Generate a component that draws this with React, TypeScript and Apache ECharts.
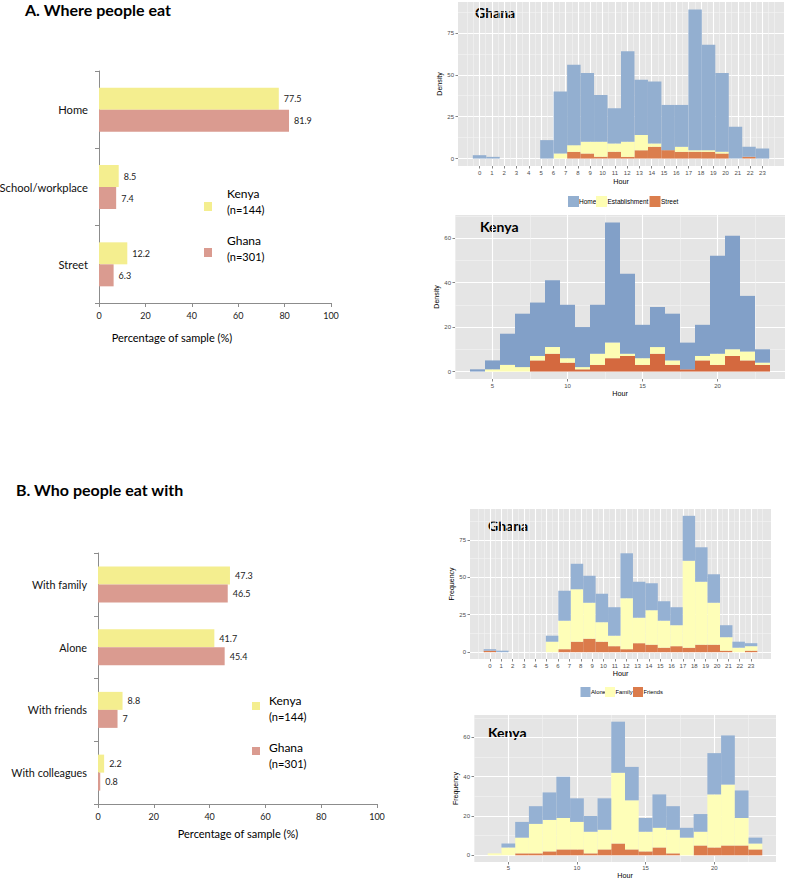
import React, { useEffect, useRef } from 'react';
import * as echarts from 'echarts';

// ---------- Bar charts (percentage of sample) ----------
const placeCategories = ['Home', 'School/workplace', 'Street'];
const placeKenya = [77.5, 8.5, 12.2];
const placeGhana = [81.9, 7.4, 6.3];

const companyCategories = ['With family', 'Alone', 'With friends', 'With colleagues'];
const companyKenya = [47.3, 41.7, 8.8, 2.2];
const companyGhana = [46.5, 45.4, 7, 0.8];

// ---------- Histograms ----------
// Ghana: 22 bins spanning hours 0..23
const ghanaBinCount = 22;
const ghanaHourFirst = 0;
const ghanaHourLast = 23;
const ghanaHourTicks = [0, 1, 2, 3, 4, 5, 6, 7, 8, 9, 10, 11, 12, 13, 14, 15, 16, 17, 18, 19, 20, 21, 22, 23];
// Kenya: one bin per hour, 4..23
const kenyaHours = [4, 5, 6, 7, 8, 9, 10, 11, 12, 13, 14, 15, 16, 17, 18, 19, 20, 21, 22, 23];
const kenyaHourTicks = [5, 10, 15, 20];

const ghanaWhereHome = [2, 1, 0, 0, 0, 11, 37, 48, 41, 28, 21, 54, 33, 37, 27, 25, 84, 63, 47, 19, 6, 6];
const ghanaWhereEstablishment = [0, 0, 0, 0, 0, 0, 3, 4, 7, 9, 5, 9, 9, 2, 0, 3, 1, 1, 1, 0, 0, 0];
const ghanaWhereStreet = [0, 0, 0, 0, 0, 0, 0, 4, 3, 1, 4, 1, 5, 7, 5, 4, 4, 4, 3, 0, 1, 0];

const kenyaWhereHome = [1, 4, 14, 24, 24, 30, 24, 18, 22, 54, 36, 15, 18, 21, 12, 14, 44, 51, 25, 6];
const kenyaWhereEstablishment = [0, 1, 3, 2, 2, 3, 2, 1, 5, 7, 1, 3, 3, 2, 0, 2, 5, 3, 4, 1];
const kenyaWhereStreet = [0, 0, 0, 0, 5, 8, 4, 1, 3, 6, 7, 3, 8, 3, 1, 5, 3, 7, 5, 3];

const ghanaWhoAlone = [1, 1, 0, 0, 0, 4, 20, 17, 18, 19, 19, 30, 24, 18, 13, 12, 30, 23, 19, 8, 4, 2];
const ghanaWhoFamily = [0, 0, 0, 0, 0, 7, 19, 35, 24, 13, 7, 34, 17, 23, 18, 14, 58, 42, 28, 9, 3, 3];
const ghanaWhoFriends = [1, 0, 0, 0, 0, 0, 2, 7, 9, 7, 4, 2, 6, 5, 3, 4, 3, 5, 5, 1, 0, 1];

const kenyaWhoAlone = [0, 2, 8, 9, 14, 21, 12, 8, 16, 26, 17, 7, 17, 12, 5, 9, 21, 25, 14, 3];
const kenyaWhoFamily = [1, 4, 8, 15, 16, 16, 14, 11, 10, 36, 25, 10, 10, 12, 9, 7, 27, 31, 14, 3];
const kenyaWhoFriends = [0, 0, 1, 1, 2, 3, 3, 1, 3, 6, 3, 2, 4, 1, 0, 5, 4, 5, 5, 3];

const densityTicks = [0, 25, 50, 75];
const kenyaCountTicks = [0, 20, 40, 60];

// ---------- styles ----------
const KENYA_BAR = '#F4EE8F';
const GHANA_BAR = '#DA9B90';
const HOME_G = '#93AFD0';
const HOME_K = '#82A0C8';
const EST = '#FDFDB3';
const STREET_G = '#DB7E4D';
const STREET_K = '#D4693F';
const ALONE = '#95B1D3';
const FAMILY = '#FEFEB8';
const FRIENDS = '#DB7B4B';
const HF = 'Liberation Sans, Arial, sans-serif';
const BF = 'Lato, sans-serif';

type Layer = { name: string; values: number[]; color: string };

function expandRange(lo: number, hi: number): [number, number] {
  const d = (hi - lo) * 0.05;
  return [lo - d, hi + d];
}

function minorBreaks(majors: number[], lo: number, hi: number): number[] {
  const step = majors[1] - majors[0];
  const out: number[] = [];
  for (let v = majors[0] - step; v <= majors[majors.length - 1] + step + 1e-9; v += step / 2) {
    const r = Math.round(v * 1000) / 1000;
    if (r >= lo && r <= hi && !majors.some((m) => Math.abs(m - r) < 1e-6)) out.push(r);
  }
  return out;
}

const MAJOR_GRID = { show: true, lineStyle: { color: '#FFFFFF', width: 1.1 } };
const MINOR_GRID = { show: true, lineStyle: { color: '#F4F4F4', width: 0.6 } };
const HIDDEN_LINE = { show: false, onZero: false };

function buildHist(
  idx: number,
  centers: number[],
  width: number,
  layers: Layer[],
  xTicks: number[],
  yTicks: number[],
  yName: string,
  nameGapX: number,
  nameGapY: number,
  labelMargin: number
) {
  const [xmin, xmax] = expandRange(centers[0] - width / 2, centers[centers.length - 1] + width / 2);
  const totals = centers.map((_, i) => layers.reduce((s, l) => s + l.values[i], 0));
  const [ymin, ymax] = expandRange(0, Math.max(...totals));

  const xAxis = {
    gridIndex: idx,
    type: 'value',
    position: 'bottom',
    min: xmin,
    max: xmax,
    axisLine: HIDDEN_LINE,
    splitLine: MAJOR_GRID,
    axisTick: { show: true, customValues: xTicks, length: 2.5, lineStyle: { color: '#333', width: 0.6 } },
    axisLabel: { customValues: xTicks, fontSize: 6, color: '#4d4d4d', margin: labelMargin, fontFamily: HF },
    name: 'Hour',
    nameLocation: 'middle',
    nameGap: nameGapX,
    nameTextStyle: { fontSize: 7.2, color: '#000', fontFamily: HF },
  };
  const yAxis = {
    gridIndex: idx,
    type: 'value',
    position: 'left',
    min: ymin,
    max: ymax,
    axisLine: HIDDEN_LINE,
    splitLine: MAJOR_GRID,
    axisTick: { show: true, customValues: yTicks, length: 2.5, lineStyle: { color: '#333', width: 0.6 } },
    axisLabel: { customValues: yTicks, fontSize: 6, color: '#4d4d4d', margin: 4, fontFamily: HF },
    name: yName,
    nameLocation: 'middle',
    nameGap: nameGapY,
    nameRotate: 90,
    nameTextStyle: { fontSize: 7, color: '#000', fontFamily: HF },
  };
  // invisible companion axes that only carry the minor grid lines
  const xMinor = {
    gridIndex: idx,
    type: 'value',
    position: 'bottom',
    min: xmin,
    max: xmax,
    axisLine: HIDDEN_LINE,
    axisTick: { show: false, customValues: minorBreaks(xTicks, xmin, xmax) },
    axisLabel: { show: false },
    splitLine: MINOR_GRID,
    z: 0,
  };
  const yMinor = {
    gridIndex: idx,
    type: 'value',
    position: 'left',
    min: ymin,
    max: ymax,
    axisLine: HIDDEN_LINE,
    axisTick: { show: false, customValues: minorBreaks(yTicks, ymin, ymax) },
    axisLabel: { show: false },
    splitLine: MINOR_GRID,
    z: 0,
  };

  const series: any[] = [];
  const cum = centers.map(() => 0);
  layers.forEach((layer) => {
    const data = centers.map((c, i) => {
      const b = cum[i];
      const t = b + layer.values[i];
      cum[i] = t;
      return [c, b, t];
    });
    series.push({
      type: 'custom',
      name: layer.name,
      xAxisIndex: idx,
      yAxisIndex: idx,
      z: 3,
      itemStyle: { color: layer.color },
      data,
      renderItem: (_params: any, api: any) => {
        const c = api.value(0);
        const b = api.value(1);
        const t = api.value(2);
        if (!(t > b)) return { type: 'group', children: [] };
        const p0 = api.coord([c - width / 2, t]);
        const p1 = api.coord([c + width / 2, b]);
        return {
          type: 'rect',
          shape: { x: p0[0], y: p0[1], width: p1[0] - p0[0], height: p1[1] - p0[1] },
          style: { fill: layer.color },
        };
      },
    });
  });
  return { xAxis, yAxis, xMinor, yMinor, series };
}

function barXAxis(idx: number) {
  return {
    gridIndex: idx,
    type: 'value',
    min: 0,
    max: 100,
    interval: 20,
    axisLine: { show: true, lineStyle: { color: '#8C8C8C', width: 1 } },
    axisTick: { show: true, length: 4, lineStyle: { color: '#8C8C8C' } },
    splitLine: { show: false },
    axisLabel: { fontSize: 9, color: '#222', margin: 8, fontFamily: BF },
  };
}

function barYAxis(idx: number, cats: string[], fontSize: number) {
  return {
    gridIndex: idx,
    type: 'category',
    inverse: true,
    data: cats,
    axisLine: { show: true, lineStyle: { color: '#8C8C8C', width: 1 } },
    axisTick: { show: true, length: 4, lineStyle: { color: '#8C8C8C' } },
    axisLabel: { fontSize, color: '#111', margin: 11, fontFamily: BF },
  };
}

function barSeries(idx: number, name: string, data: number[], color: string, width: number) {
  return {
    type: 'bar',
    name,
    xAxisIndex: idx,
    yAxisIndex: idx,
    data,
    barWidth: width,
    barGap: '0%',
    itemStyle: { color },
    label: { show: true, position: 'right', distance: 5, fontSize: 9, color: '#222', fontFamily: BF },
  };
}

function txt(x: number, y: number, text: string, fontSize: number, opts: any = {}) {
  return {
    type: 'text',
    x,
    y,
    style: {
      text,
      fontSize,
      fontFamily: opts.fontFamily || BF,
      fontWeight: opts.fontWeight || 'normal',
      fill: opts.fill || '#000',
      align: opts.align || 'left',
      verticalAlign: 'middle',
      textAlign: opts.align || 'left',
      textVerticalAlign: 'middle',
    },
  };
}

function rect(x: number, y: number, w: number, h: number, fill: string) {
  return { type: 'rect', shape: { x, y, width: w, height: h }, style: { fill } };
}

export default function App() {
  const ref = useRef<HTMLDivElement>(null);
  useEffect(() => {
    if (!ref.current) return;
    const chart = echarts.init(ref.current, undefined, { renderer: 'svg' });

    const ghanaWidth = (ghanaHourLast - ghanaHourFirst) / (ghanaBinCount - 1);
    const ghanaCenters = Array.from({ length: ghanaBinCount }, (_, i) => ghanaHourFirst + i * ghanaWidth);

    const h1 = buildHist(2, ghanaCenters, ghanaWidth, [
      { name: 'Street', values: ghanaWhereStreet, color: STREET_G },
      { name: 'Establishment', values: ghanaWhereEstablishment, color: EST },
      { name: 'Home', values: ghanaWhereHome, color: HOME_G },
    ], ghanaHourTicks, densityTicks, 'Density', 12, 12, 4);
    const h2 = buildHist(3, kenyaHours, 1, [
      { name: 'Street', values: kenyaWhereStreet, color: STREET_K },
      { name: 'Establishment', values: kenyaWhereEstablishment, color: EST },
      { name: 'Home', values: kenyaWhereHome, color: HOME_K },
    ], kenyaHourTicks, kenyaCountTicks, 'Density', 11, 12, 4);
    const h3 = buildHist(4, ghanaCenters, ghanaWidth, [
      { name: 'Friends', values: ghanaWhoFriends, color: FRIENDS },
      { name: 'Family', values: ghanaWhoFamily, color: FAMILY },
      { name: 'Alone', values: ghanaWhoAlone, color: ALONE },
    ], ghanaHourTicks, densityTicks, 'Frequency', 10.5, 10, 4);
    const h4 = buildHist(5, kenyaHours, 1, [
      { name: 'Friends', values: kenyaWhoFriends, color: FRIENDS },
      { name: 'Family', values: kenyaWhoFamily, color: FAMILY },
      { name: 'Alone', values: kenyaWhoAlone, color: ALONE },
    ], kenyaHourTicks, kenyaCountTicks, 'Frequency', 10, 11, 3);

    const noBounds = { containLabel: false, outerBoundsMode: 'none' };
    const histGrid = { show: true, backgroundColor: '#E5E5E5', borderWidth: 0, ...noBounds };

    const option: any = {
      animation: false,
      backgroundColor: '#FFFFFF',
      textStyle: { fontFamily: BF },
      grid: [
        { left: 99, top: 71, width: 232, height: 232, ...noBounds },
        { left: 98, top: 553, width: 279, height: 251, ...noBounds },
        { left: 458, top: 2, width: 326, height: 164, ...histGrid },
        { left: 455, top: 215, width: 330, height: 164, ...histGrid },
        { left: 470, top: 509, width: 301, height: 150, ...histGrid },
        { left: 474, top: 715, width: 302, height: 147, ...histGrid },
      ],
      xAxis: [
        barXAxis(0), barXAxis(1),
        h1.xAxis, h2.xAxis, h3.xAxis, h4.xAxis,
        h1.xMinor, h2.xMinor, h3.xMinor, h4.xMinor,
      ],
      yAxis: [
        barYAxis(0, placeCategories, 11.2),
        barYAxis(1, companyCategories, 10.8),
        h1.yAxis, h2.yAxis, h3.yAxis, h4.yAxis,
        h1.yMinor, h2.yMinor, h3.yMinor, h4.yMinor,
      ],
      series: [
        barSeries(0, 'Kenya', placeKenya, KENYA_BAR, 22),
        barSeries(0, 'Ghana', placeGhana, GHANA_BAR, 22),
        barSeries(1, 'Kenya', companyKenya, KENYA_BAR, 18),
        barSeries(1, 'Ghana', companyGhana, GHANA_BAR, 18),
        ...h1.series,
        ...h2.series,
        ...h3.series,
        ...h4.series,
      ],
      graphic: [
        // titles
        txt(25, 9, 'A. Where people eat', 16, { fontWeight: 'bold' }),
        txt(16, 489, 'B. Who people eat with', 16, { fontWeight: 'bold' }),
        // x-axis names of bar charts
        txt(172, 337, 'Percentage of sample (%)', 11, { align: 'center' }),
        txt(238, 833, 'Percentage of sample (%)', 11, { align: 'center' }),
        // legend A
        rect(204, 202, 8, 9, KENYA_BAR),
        txt(227, 193, 'Kenya', 12),
        txt(227, 209, '(n=144)', 11),
        rect(204, 248, 8, 9, GHANA_BAR),
        txt(227, 240, 'Ghana', 12),
        txt(227, 256, '(n=301)', 11),
        // legend B
        rect(252, 702, 8, 8, KENYA_BAR),
        txt(269, 700, 'Kenya', 12),
        txt(269, 716, '(n=144)', 11),
        rect(252, 747, 8, 8, GHANA_BAR),
        txt(269, 747, 'Ghana', 12),
        txt(269, 763, '(n=301)', 11),
        // histogram panel titles
        txt(475, 12.5, 'Ghana', 14, { fontWeight: 'bold' }),
        txt(480, 226, 'Kenya', 14, { fontWeight: 'bold' }),
        txt(488, 525, 'Ghana', 14, { fontWeight: 'bold' }),
        txt(488, 732, 'Kenya', 14, { fontWeight: 'bold' }),
        // histogram legend (where)
        rect(568, 196, 11, 11, HOME_G),
        txt(579, 201.5, 'Home', 6.5, { fontFamily: HF }),
        rect(596, 196, 11, 11, EST),
        txt(607.5, 201.5, 'Establishment', 6.5, { fontFamily: HF }),
        rect(649.5, 196, 11, 11, STREET_G),
        txt(661, 201.5, 'Street', 6.5, { fontFamily: HF }),
        // histogram legend (who)
        rect(580.5, 687, 10, 10, ALONE),
        txt(591, 692, 'Alone', 5.8, { fontFamily: HF }),
        rect(605, 687, 10, 10, FAMILY),
        txt(615.5, 692, 'Family', 5.8, { fontFamily: HF }),
        rect(633, 687, 10, 10, FRIENDS),
        txt(643.5, 692, 'Friends', 5.8, { fontFamily: HF }),
      ],
    };
    chart.setOption(option);
    return () => chart.dispose();
  }, []);

  return (
    <div
      ref={ref}
      style={{ position: 'absolute', left: 0, top: 0, width: 787, height: 883, background: '#fff' }}
    />
  );
}
